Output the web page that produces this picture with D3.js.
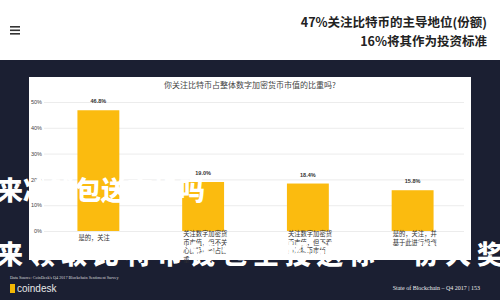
<!DOCTYPE html>
<html>
<head>
<meta charset="utf-8">
<script src="https://cdn.jsdelivr.net/npm/d3@7"></script>
<style>
  body { margin: 0; background: #fff; }
  svg { display: block; font-family: "Noto Sans CJK SC", "Noto Sans", sans-serif; }
</style>
</head>
<body>
<svg></svg>
<script>
// chart data
const categories = [
    "是的，关注",
    "关注数字加密货币市值，但不关心比特币的占比重",
    "关注数字加密货币市值，但不看重比特币市值",
    "是的，关注，并基于此进行投资"
];
const values = [46.8, 19.0, 18.4, 15.8];
const yTicks = [0, 10, 20, 30, 40, 50];

const headline = ["47%关注比特币的主导地位(份额)", "16%将其作为投资标准"];
const chartTitle = "你关注比特币占整体数字加密货币市值的比重吗?";
const overlayLines = ["来冷钱包送空投吗", "来领取比特币钱包空投送你一份大奖"];

const svgWidth = 500;
const svgHeight = 300;

const svg = d3.select("svg")
    .attr("width", svgWidth)
    .attr("height", svgHeight);

// dark page background below header
svg.append("rect")
    .attr("x", 0).attr("y", 60)
    .attr("width", svgWidth).attr("height", svgHeight - 60)
    .attr("fill", "#1b1f32");

// header: menu icon + headline
[0, 1, 2].forEach(i => {
    svg.append("rect")
        .attr("x", 10).attr("y", 26 + i * 3.5)
        .attr("width", 10).attr("height", 1.6)
        .attr("fill", "#333");
});
svg.selectAll(".headline")
    .data(headline)
    .enter()
    .append("text")
    .attr("class", "headline")
    .attr("x", 487)
    .attr("y", (d, i) => 27 + i * 19)
    .attr("text-anchor", "end")
    .style("font-size", "12.5px")
    .style("font-weight", "bold")
    .style("fill", "#222")
    .text(d => d);

// white chart panel
svg.append("rect")
    .attr("x", 29).attr("y", 77)
    .attr("width", 442).attr("height", 183)
    .attr("fill", "#fff");

svg.append("text")
    .attr("x", 250)
    .attr("y", 88)
    .attr("text-anchor", "middle")
    .style("font-size", "8px")
    .style("fill", "#444")
    .text(chartTitle);

const plotTop = 102;
const plotBottom = 231;

const xScale = d3.scaleBand()
    .domain(categories)
    .range([46, 465])
    .paddingInner(0.6)
    .paddingOuter(0.3);

const yScale = d3.scaleLinear()
    .domain([0, 50])
    .range([plotBottom, plotTop]);

// gridlines + y labels
const yAxis = svg.append("g")
    .attr("transform", "translate(44,0)")
    .call(d3.axisLeft(yScale)
        .tickValues(yTicks)
        .tickSize(-420)
        .tickPadding(2)
        .tickFormat(d => d + "%"));
yAxis.select(".domain").remove();
yAxis.selectAll(".tick line").attr("stroke", "#e4e4e4").attr("stroke-width", 0.7);
yAxis.selectAll(".tick text")
    .style("font-size", "5.5px")
    .style("font-family", "Liberation Sans, sans-serif")
    .style("fill", "#444");

// bars
svg.selectAll(".bar")
    .data(values)
    .enter()
    .append("rect")
    .attr("class", "bar")
    .attr("x", (d, i) => xScale(categories[i]))
    .attr("y", d => yScale(d))
    .attr("width", xScale.bandwidth())
    .attr("height", d => plotBottom - yScale(d))
    .attr("fill", "#fbbb0f");

// value labels
svg.selectAll(".val")
    .data(values)
    .enter()
    .append("text")
    .attr("class", "val")
    .attr("x", (d, i) => xScale(categories[i]) + xScale.bandwidth() / 2)
    .attr("y", d => yScale(d) - 7)
    .attr("text-anchor", "middle")
    .style("font-size", "5.5px")
    .style("font-family", "Liberation Sans, sans-serif")
    .style("font-weight", "bold")
    .style("fill", "#333")
    .text(d => d.toFixed(1) + "%");

// category labels, wrapped at 7 chars
categories.forEach(c => {
    const lines = [];
    for (let k = 0; k < c.length; k += 7) lines.push(c.slice(k, k + 7));
    const t = svg.append("text")
        .attr("y", lines.length === 1 ? 240 : 236)
        .style("font-size", "6.3px")
        .style("fill", "#333");
    lines.forEach((l, j) => {
        t.append("tspan")
            .attr("x", xScale(c) + 1)
            .attr("dy", j === 0 ? 0 : 8.5)
            .text(l);
    });
});

// big white overlay text
svg.append("text")
    .attr("x", -3)
    .attr("y", 200)
    .style("font-size", "26px")
    .style("font-weight", 900)
    .style("fill", "#fff")
    .text(overlayLines[0]);
svg.append("text")
    .attr("x", -3)
    .attr("y", 264)
    .style("font-size", "26px")
    .style("font-weight", 900)
    .style("fill", "#fff")
    .attr("textLength", 506)
    .text(overlayLines[1]);

// footer
svg.append("text")
    .attr("x", 10).attr("y", 279)
    .style("font-size", "4.2px")
    .style("font-family", "Liberation Serif, serif")
    .style("fill", "#ddd")
    .text("Data Source: CoinDesk's Q4 2017 Blockchain Sentiment Survey");
svg.append("rect")
    .attr("x", 10).attr("y", 284)
    .attr("width", 5).attr("height", 9)
    .attr("fill", "#f2b705");
svg.append("text")
    .attr("x", 17).attr("y", 292)
    .style("font-size", "10px")
    .style("font-family", "Liberation Sans, sans-serif")
    .style("fill", "#e8e8e8")
    .text("coindesk");
svg.append("text")
    .attr("x", 480).attr("y", 290)
    .attr("text-anchor", "end")
    .style("font-size", "6px")
    .style("font-family", "Liberation Serif, serif")
    .style("fill", "#eee")
    .text("State of Blockchain – Q4 2017    |    153");
</script>
</body>
</html>
